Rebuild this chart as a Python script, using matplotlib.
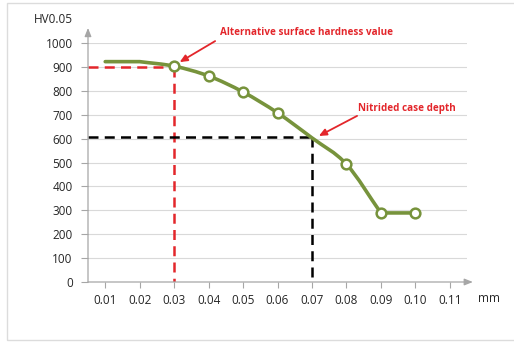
import matplotlib.pyplot as plt
import numpy as np
from matplotlib.path import Path
from matplotlib.patches import PathPatch, Rectangle

plt.rcParams['font.family'] = ['Open Sans', 'DejaVu Sans']

depth = [0.01, 0.02, 0.03, 0.04, 0.05, 0.06, 0.07, 0.08, 0.09, 0.10]
hardness = [922, 922, 903, 862, 795, 708, 603, 493, 289, 289]
marked = [False, False, True, True, True, True, False, True, True, True]

xticks = [0.01, 0.02, 0.03, 0.04, 0.05, 0.06, 0.07, 0.08, 0.09, 0.10, 0.11]
xtick_labels = ['0.01', '0.02', '0.03', '0.04', '0.05', '0.06', '0.07', '0.08', '0.09', '0.10', '0.11']
yticks = [0, 100, 200, 300, 400, 500, 600, 700, 800, 900, 1000]

surface_x, surface_y = 0.03, 900
case_x, case_y = 0.07, 605

green = '#77933c'
red = '#e3262b'
grey = '#a6a6a6'

fig = plt.figure(figsize=(5.14, 3.42), dpi=100)
ax = fig.add_axes([88 / 514, 1 - 282 / 342, (467 - 88) / 514, (282 - 43) / 342])

# rahmen um die ganze grafik
fig.patches.append(Rectangle((7 / 514, 2 / 342), 1.2, 1 - 5 / 342, transform=fig.transFigure,
                             fill=False, edgecolor='#dcdcdc', lw=1.0))

ax.set_xlim(0.005, 0.115)
ax.set_ylim(0, 1000)
for s in ax.spines.values():
    s.set_visible(False)

for y in yticks[1:]:
    ax.axhline(y, color='#d9d9d9', lw=0.8, zorder=0)

# achsen mit pfeil
ax.annotate('', xy=(0.1167, 0), xytext=(0.005, 0), annotation_clip=False,
            arrowprops=dict(arrowstyle='-|>,head_length=0.5,head_width=0.2', color=grey, lw=0.9,
                            shrinkA=0, shrinkB=0))
ax.annotate('', xy=(0.005, 1063), xytext=(0.005, 0), annotation_clip=False,
            arrowprops=dict(arrowstyle='-|>,head_length=0.5,head_width=0.2', color=grey, lw=0.9,
                            shrinkA=0, shrinkB=0))

ax.set_xticks(xticks)
ax.set_xticklabels(xtick_labels)
ax.set_yticks(yticks)
ax.tick_params(axis='x', direction='out', length=4, color=grey, labelsize=8.5, labelcolor='#262626', pad=5)
ax.tick_params(axis='y', direction='out', length=5, color=grey, labelsize=8.5, labelcolor='#262626', pad=6)

ax.text(-0.005, 1098, 'HV0.05', fontsize=8.5, color='#262626', ha='center', va='center')
ax.text(0.1215, -68, 'mm', fontsize=8.5, color='#262626', ha='center', va='center')

# hilfslinien
ax.plot([0.005, surface_x], [surface_y, surface_y], color=red, lw=1.8, dashes=(4, 2.5), zorder=2)
ax.plot([surface_x, surface_x], [surface_y, 0], color=red, lw=1.8, dashes=(4, 2.5), zorder=2)
ax.plot([0.005, case_x], [case_y, case_y], color='black', lw=1.8, dashes=(4, 2.5), zorder=2)
ax.plot([case_x, case_x], [case_y, 0], color='black', lw=1.8, dashes=(4, 2.5), zorder=2)

# geglaettete kurve (bezier); an plateaus flach auf der flachen seite
x = np.array(depth)
y = np.array(hardness, dtype=float)
d = np.diff(y) / np.diff(x)
n = len(y)
m_in = np.zeros(n)
m_out = np.zeros(n)
for i in range(1, n - 1):
    if d[i - 1] * d[i] > 0:
        m_in[i] = m_out[i] = (d[i - 1] + d[i]) / 2
    else:
        m_in[i] = d[i - 1]
        m_out[i] = d[i]
verts = [(x[0], y[0])]
codes = [Path.MOVETO]
for i in range(n - 1):
    h = x[i + 1] - x[i]
    verts += [(x[i] + h / 3, y[i] + m_out[i] * h / 3),
              (x[i + 1] - h / 3, y[i + 1] - m_in[i + 1] * h / 3),
              (x[i + 1], y[i + 1])]
    codes += [Path.CURVE4] * 3
ax.add_patch(PathPatch(Path(verts, codes), fill=False, edgecolor=green, lw=2.6,
                       capstyle='round', joinstyle='round', zorder=3))

mx = [a for a, k in zip(depth, marked) if k]
my = [b for b, k in zip(hardness, marked) if k]
ax.plot(mx, my, 'o', ms=7, mfc='white', mec=green, mew=1.8, zorder=4)

# beschriftungen
ax.text(0.0432, 1046, 'Alternative surface hardness value', fontsize=7.1, fontweight='bold',
        color=red, ha='left', va='center', clip_on=False)
ax.annotate('', xy=(0.0316, 920), xytext=(0.0419, 1008), annotation_clip=False,
            arrowprops=dict(arrowstyle='-|>,head_length=0.45,head_width=0.2', color=red, lw=1.3,
                            shrinkA=0, shrinkB=0))
ax.text(0.0834, 724, 'Nitrided case depth', fontsize=7.1, fontweight='bold',
        color=red, ha='left', va='center')
ax.annotate('', xy=(0.0720, 611), xytext=(0.0831, 695),
            arrowprops=dict(arrowstyle='-|>,head_length=0.45,head_width=0.2', color=red, lw=1.3,
                            shrinkA=0, shrinkB=0))

fig.savefig('out.png', dpi=100)
